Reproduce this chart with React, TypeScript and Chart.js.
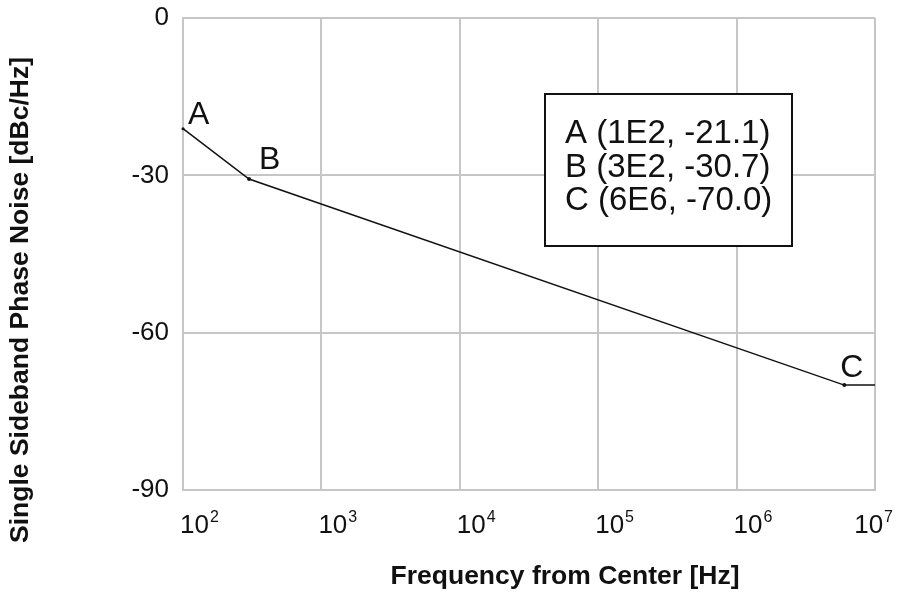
import { useEffect, useRef } from 'react';
import { Chart, registerables } from 'chart.js';

Chart.register(...registerables);

// ---- data ----
const freqHz = [1e2, 3e2, 6e6, 1e7];
const noiseDbc = [-21.1, -30.7, -70.0, -70.0];
const pointNames = ['A', 'B', 'C'];
const pointFreqLabels = ['1E2', '3E2', '6E6'];
const xTickValues = [1e2, 1e3, 1e4, 1e5, 1e6, 1e7];
const xTickExponents = ['2', '3', '4', '5', '6', '7'];
const yTickValues = [-90, -60, -30, 0];
const xTitle = 'Frequency from Center [Hz]';
const yTitle = 'Single Sideband Phase Noise [dBc/Hz]';

const SANS = '"Liberation Sans", Arial, sans-serif';
const GRID = '#c6c6c6';

const annotPlugin = {
  id: 'annot',
  afterDatasetsDraw(chart: any) {
    const { ctx, scales } = chart;
    const x = scales.x;
    const y = scales.y;
    ctx.save();

    // point labels A, B, C
    ctx.font = `32px ${SANS}`;
    ctx.fillStyle = '#111';
    ctx.textAlign = 'left';
    ctx.textBaseline = 'alphabetic';
    const offs = [[5, -5], [10, -10], [-4, -8]];
    pointNames.forEach((n, i) => {
      const px = x.getPixelForValue(freqHz[i]);
      const py = y.getPixelForValue(noiseDbc[i]);
      ctx.fillText(n, px + offs[i][0], py + offs[i][1]);
    });

    // legend box
    const bx = 545, by = 94, bw = 247, bh = 152;
    ctx.fillStyle = '#fff';
    ctx.fillRect(bx, by, bw, bh);
    ctx.strokeStyle = '#111';
    ctx.lineWidth = 2;
    ctx.strokeRect(bx, by, bw, bh);
    ctx.fillStyle = '#111';
    ctx.font = `33px ${SANS}`;
    pointNames.forEach((n, i) => {
      const txt = `${n} (${pointFreqLabels[i]}, ${noiseDbc[i].toFixed(1)})`;
      ctx.fillText(txt, bx + 20, by + 49 + i * 33.5);
    });

    // x tick labels with superscript exponents
    xTickValues.forEach((v, i) => {
      const px = x.getPixelForValue(v);
      ctx.font = `26px ${SANS}`;
      const w1 = ctx.measureText('10').width;
      ctx.font = `16px ${SANS}`;
      const w2 = ctx.measureText(xTickExponents[i]).width;
      let left = px - 3;
      if (left + w1 + w2 + 1 > 893) left = 893 - (w1 + w2 + 1);
      ctx.font = `26px ${SANS}`;
      ctx.fillText('10', left, 533);
      ctx.font = `16px ${SANS}`;
      ctx.fillText(xTickExponents[i], left + w1 + 1, 522);
    });

    // axis titles
    ctx.font = `bold 26.5px ${SANS}`;
    ctx.textAlign = 'center';
    ctx.textBaseline = 'middle';
    ctx.fillText(xTitle, 565, 577);
    ctx.font = `bold 26.5px ${SANS}`;
    ctx.translate(21, 300);
    ctx.rotate(-Math.PI / 2);
    ctx.fillText(yTitle, 0, 0);

    ctx.restore();
  },
};

export default function App() {
  const ref = useRef<HTMLCanvasElement>(null);
  useEffect(() => {
    document.body.style.margin = '0';
    const chart = new Chart(ref.current as HTMLCanvasElement, {
      type: 'line',
      data: {
        datasets: [
          {
            data: freqHz.map((f, i) => ({ x: f, y: noiseDbc[i] })),
            borderColor: '#111',
            borderWidth: 1.5,
            pointRadius: [1.5, 2, 2, 0],
            pointBackgroundColor: '#111',
            pointBorderWidth: 0,
            tension: 0,
            clip: 4,
          } as any,
        ],
      },
      options: {
        animation: false,
        responsive: false,
        layout: { padding: { top: 18, right: 22, left: 0, bottom: 0 } },
        plugins: { legend: { display: false }, tooltip: { enabled: false } },
        scales: {
          x: {
            type: 'logarithmic',
            position: 'bottom',
            min: 100,
            max: 1e7,
            grid: { color: GRID, lineWidth: 2, drawTicks: false },
            border: { color: GRID, width: 2 },
            ticks: { display: false },
            afterBuildTicks: (s: any) => {
              s.ticks = xTickValues.map((v) => ({ value: v }));
            },
            afterFit: (s: any) => {
              s.height = 105;
              s.paddingLeft = 0;
              s.paddingRight = 0;
            },
          },
          y: {
            type: 'linear',
            min: -90,
            max: 0,
            grid: { color: GRID, lineWidth: 2, drawTicks: false },
            border: { color: GRID, width: 2 },
            ticks: {
              padding: 14,
              color: '#111',
              font: { family: SANS, size: 26 },
            },
            afterBuildTicks: (s: any) => {
              s.ticks = yTickValues.map((v) => ({ value: v }));
            },
            afterFit: (s: any) => {
              s.width = 183;
              s.paddingTop = 0;
              s.paddingBottom = 0;
            },
          },
        },
      } as any,
      plugins: [annotPlugin],
    });
    return () => chart.destroy();
  }, []);
  return (
    <div style={{ width: 897, height: 595 }}>
      <canvas ref={ref} width={897} height={595} style={{ display: 'block' }} />
    </div>
  );
}
